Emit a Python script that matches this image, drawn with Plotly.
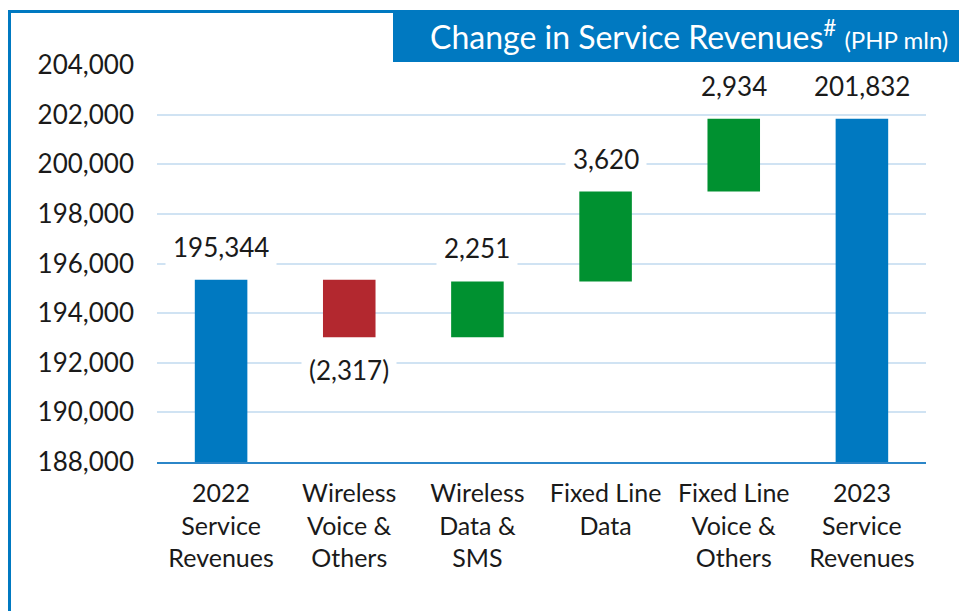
import plotly.graph_objects as go

categories = ["2022<br>Service<br>Revenues", "Wireless<br>Voice &<br>Others",
              "Wireless<br>Data &<br>SMS", "Fixed Line<br>Data",
              "Fixed Line<br>Voice &<br>Others", "2023<br>Service<br>Revenues"]
values = [195344, -2317, 2251, 3620, 2934, 201832]
measures = ["absolute", "relative", "relative", "relative", "relative", "total"]
y_ticks = [188000, 190000, 192000, 194000, 196000, 198000, 200000, 202000, 204000]

BLUE = "#0079C1"
RED = "#B3282F"
GREEN = "#009130"
GRID = "#D0E3F3"
FONT = "Lato"
TXT = "#1a1a1a"

# the page body adds an 8px offset, so the figure is drawn 8px smaller
OFF = 8
W, H = 967 - OFF, 611 - OFF
# plot area in page px: x 157..926, y 65..462
L, R, T, B = 157 - OFF, 967 - 926, 65 - OFF, 611 - 462
PW, PH = W - L - R, H - T - B


def px(x):
    return (x - OFF - L) / PW


def py(y):
    return (H - B - (y - OFF)) / PH


fig = go.Figure(go.Waterfall(
    x=categories, y=values, measure=measures,
    increasing=dict(marker=dict(color=GREEN)),
    decreasing=dict(marker=dict(color=RED)),
    totals=dict(marker=dict(color=BLUE)),
    connector=dict(visible=False),
    textposition="none",
    hoverinfo="skip",
))

# data labels with white background (cuts the gridlines like the original)
running = 0
for cat, v, m in zip(categories, values, measures):
    if m == "absolute":
        running = v
        y, shift, txt = v, 33, f"{v:,}"
    elif m == "total":
        y, shift, txt = running, 33, f"{running:,}"
    else:
        running += v
        if v >= 0:
            y, shift, txt = running, 33, f"{v:,}"
        else:
            y, shift, txt = running, -33, f"({-v:,})"
    fig.add_annotation(x=cat, y=y, text=txt, showarrow=False, yanchor="middle",
                       yshift=shift, bgcolor="white", borderpad=7,
                       font=dict(family=FONT, size=26, color=TXT))

# title box
fig.add_shape(type="rect", xref="paper", yref="paper", layer="above",
              x0=px(388), x1=px(975), y0=py(70), y1=py(2),
              fillcolor="white", line=dict(width=0))
fig.add_shape(type="rect", xref="paper", yref="paper", layer="above",
              x0=px(393), x1=px(975), y0=py(62), y1=py(10),
              fillcolor=BLUE, line=dict(width=0))
fig.add_annotation(xref="paper", yref="paper", x=px(950), y=py(35),
                   xanchor="right", yanchor="middle", showarrow=False,
                   text="Change in Service Revenues<sup>#</sup> "
                        "<span style='font-size:24px'>(PHP mln)</span>",
                   font=dict(family=FONT, size=32, color="white"))

# blue frame (left + top)
fig.add_shape(type="line", xref="paper", yref="paper", layer="above",
              x0=px(9.5), x1=px(9.5), y0=py(11), y1=py(620),
              line=dict(color=BLUE, width=3))
fig.add_shape(type="line", xref="paper", yref="paper", layer="above",
              x0=px(8), x1=px(393), y0=py(11.5), y1=py(11.5),
              line=dict(color=BLUE, width=3))

fig.update_layout(
    width=W, height=H,
    margin=dict(l=L, r=R, t=T, b=B),
    paper_bgcolor="white", plot_bgcolor="white",
    showlegend=False,
    waterfallgap=0.59,
    font=dict(family=FONT, size=24, color=TXT),
)
fig.update_xaxes(showgrid=False, showline=True, linecolor="#2B86C8", linewidth=2,
                 ticks="", ticklabelstandoff=8,
                 tickfont=dict(family=FONT, size=25, color=TXT))
fig.update_yaxes(range=[188000, 204000], tickvals=y_ticks, tickformat=",",
                 showgrid=True, gridcolor=GRID, gridwidth=2, zeroline=False,
                 showline=False, ticks="", ticklabelstandoff=22,
                 tickfont=dict(family=FONT, size=26, color=TXT))

fig.write_html("out.html")
